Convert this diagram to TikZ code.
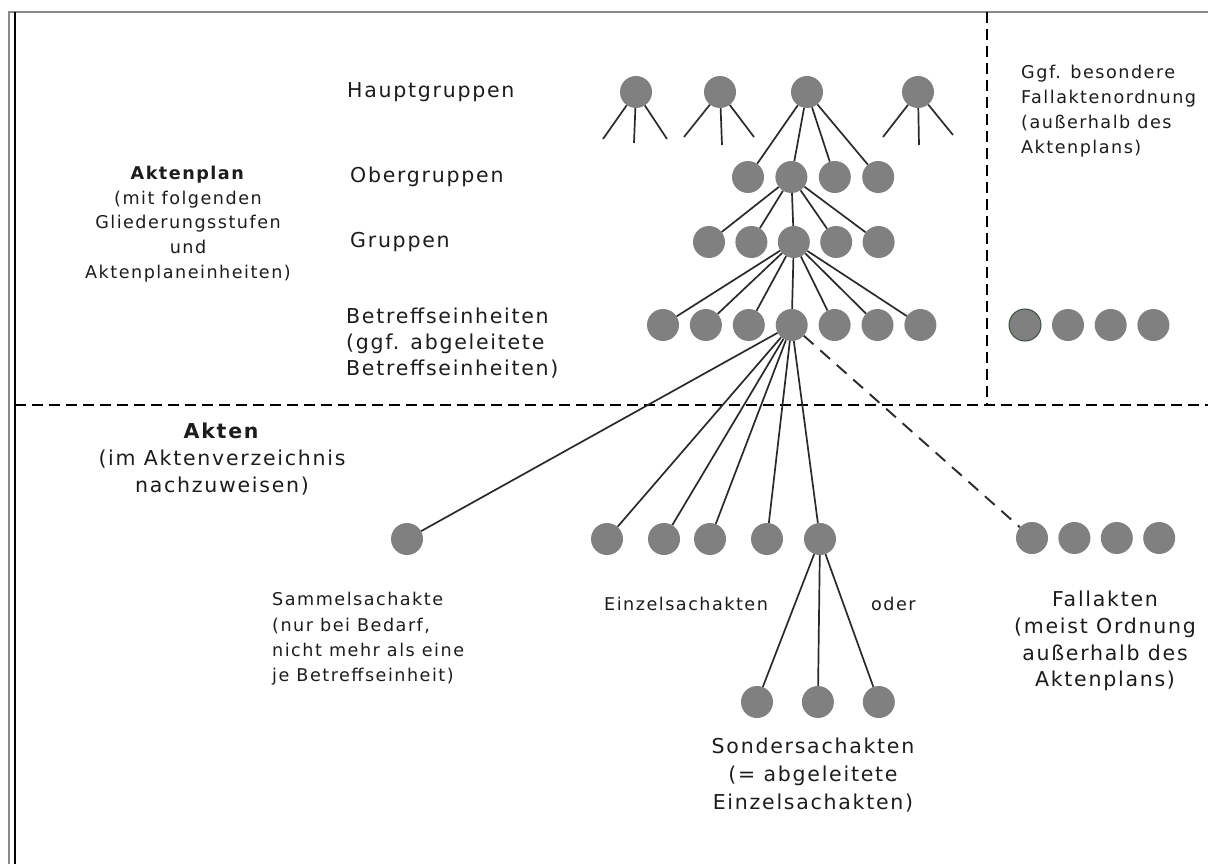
\documentclass[tikz,border=0pt]{standalone}
\usepackage{fontspec}
\setmainfont{DejaVu Sans}[LetterSpace=8.5]
\usepackage{xcolor}
\usepackage{tikz}
\usetikzlibrary{positioning}
\definecolor{ink}{HTML}{1C1C1C}
\definecolor{twigink}{HTML}{2A2A2A}
\definecolor{dotgray}{HTML}{808080}
\definecolor{framegray}{HTML}{8A8A8A}
\definecolor{rimgreen}{HTML}{3E4E3E}
\newcommand{\largetxt}{\fontsize{20.5pt}{26pt}\selectfont}
\newcommand{\smalltxt}{\fontsize{17.6pt}{24.8pt}\selectfont}
\tikzset{
  every node/.style={text=ink},
  dot/.style={circle,fill=dotgray,minimum size=32pt,inner sep=0pt},
  rimdot/.style={dot,draw=rimgreen,line width=1pt},
  twig/.style={draw=twigink,line width=1.7pt},
  dashtwig/.style={twig,line width=1.9pt,dash pattern=on 13pt off 9pt},
  divider/.style={draw=black,line width=2pt,dash pattern=on 11pt off 6pt},
  lvl/.style={anchor=west,align=left,font=\largetxt,inner sep=0pt},
  heading/.style={align=center,inner sep=0pt},
  remark/.style={anchor=west,align=left,font=\smalltxt,inner sep=0pt}
}

\begin{document}
\begin{tikzpicture}[x=1pt,y=-1pt,node distance=10.5pt]
  \useasboundingbox (0,0) rectangle (1208,864);
  % frame and dividers
  \draw[framegray,line width=2pt] (8.5,12) -- (1208,12);
  \draw[framegray,line width=2pt] (8.5,11) -- (8.5,864);
  \draw[black,line width=2.5pt] (15,12) -- (15,864);
  \draw[divider] (15,405) -- (1208,405);
  \draw[divider] (987,12) -- (987,405);

  % Aktenplan
  \node[dot] (h1) at (636,92) {};
  \node[dot] (h2) at (720,92) {};
  \node[dot] (h3) at (807,92) {};
  \node[dot] (h4) at (918,92) {};

  \node[dot] (o1) at (748,177) {};
  \node[dot,right=11pt of o1] (o2) {};
  \node[dot,right=11pt of o2] (o3) {};
  \node[dot,right=11pt of o3] (o4) {};

  \node[dot] (g1) at (709,242) {};
  \node[dot,right=10pt of g1] (g2) {};
  \node[dot,right=10pt of g2] (g3) {};
  \node[dot,right=10pt of g3] (g4) {};
  \node[dot,right=10pt of g4] (g5) {};

  \node[dot] (b1) at (663,325) {};
  \node[dot,right=of b1] (b2) {};
  \node[dot,right=of b2] (b3) {};
  \node[dot,right=of b3] (b4) {};
  \node[dot,right=of b4] (b5) {};
  \node[dot,right=of b5] (b6) {};
  \node[dot,right=of b6] (b7) {};

  \node[rimdot] (t1) at (1025,325) {};
  \node[dot,right=10.3pt of t1] (t2) {};
  \node[dot,right=10.3pt of t2] (t3) {};
  \node[dot,right=10.3pt of t3] (t4) {};

  % Akten
  \node[dot] (samm) at (407,539) {};
  \node[dot] (e1) at (607,539) {};
  \node[dot] (e2) at (664,539) {};
  \node[dot] (e3) at (710,539) {};
  \node[dot] (e4) at (767,539) {};
  \node[dot] (e5) at (820,539) {};

  \node[dot] (d1) at (757,702) {};
  \node[dot,right=28.5pt of d1] (d2) {};
  \node[dot,right=28.5pt of d2] (d3) {};

  \node[dot] (f1) at (1032,538) {};
  \node[dot,right=10pt of f1] (f2) {};
  \node[dot,right=10pt of f2] (f3) {};
  \node[dot,right=10pt of f3] (f4) {};

  \draw[twig] (h1) -- ++(-33,47) (h1) -- ++(-2,51) (h1) -- ++(31,47);
  \draw[twig] (h2) -- ++(-36,45) (h2) -- ++(2,53) (h2) -- ++(34,45);
  \draw[twig] (h4) -- ++(-35,45) (h4) -- ++(1,53) (h4) -- ++(35,43);
  \draw[twig] (h3) -- (o1) (h3) -- (o2) (h3) -- (o3) (h3) -- (o4);
  \draw[twig] (o2) -- (g1) (o2) -- (g2) (o2) -- (g3) (o2) -- (g4) (o2) -- (g5);
  \draw[twig] (g3) -- (b1) (g3) -- (b2) (g3) -- (b3) (g3) -- (b4)
    (g3) -- (b5) (g3) -- (b6) (g3) -- (b7);
  \draw[twig] (b4) -- (samm) (b4) -- (e1) (b4) -- (e2) (b4) -- (e3)
    (b4) -- (e4) (b4) -- (e5);
  \draw[dashtwig] (b4) -- (f1);
  \draw[twig] (e5) -- (d1) (e5) -- (d2) (e5) -- (d3);

  % labels
  \node[lvl] (hlab) at (347,92) {Hauptgruppen};
  \node[lvl] (olab) at (350,177) {Obergruppen};
  \node[lvl] (glab) at (350,242) {Gruppen};
  \node[lvl] (blab) at (346,343) {Betreffseinheiten\\(ggf. abgeleitete\\Betreffseinheiten)};
  \node[heading,font=\smalltxt] (plan) at (188,224) {\textbf{Aktenplan}\\(mit folgenden\\Gliederungsstufen\\und\\Aktenplaneinheiten)};
  \node[heading,font=\fontsize{20.5pt}{27pt}\selectfont] (akten) at (222,459) {\textbf{Akten}\\(im Aktenverzeichnis\\nachzuweisen)};
  \node[remark] (ordlab) at (1021,111) {Ggf. besondere\\Fallaktenordnung\\(außerhalb des\\Aktenplans)};
  \node[remark,font=\fontsize{17.6pt}{25.3pt}\selectfont] (sammlab) at (272,639) {Sammelsachakte\\(nur bei Bedarf,\\nicht mehr als eine\\je Betreffseinheit)};
  \node[remark] (einzlab) at (604,604) {Einzelsachakten};
  \node[remark] (oder) at (871,604) {oder};
  \node[heading,font=\fontsize{20.5pt}{28pt}\selectfont] (sondlab) at (813,775) {Sondersachakten\\(= abgeleitete\\Einzelsachakten)};
  \node[heading,font=\fontsize{20.5pt}{26.7pt}\selectfont] (falllab) at (1105,641) {Fallakten\\(meist Ordnung\\außerhalb des\\Aktenplans)};
\end{tikzpicture}
\end{document}
